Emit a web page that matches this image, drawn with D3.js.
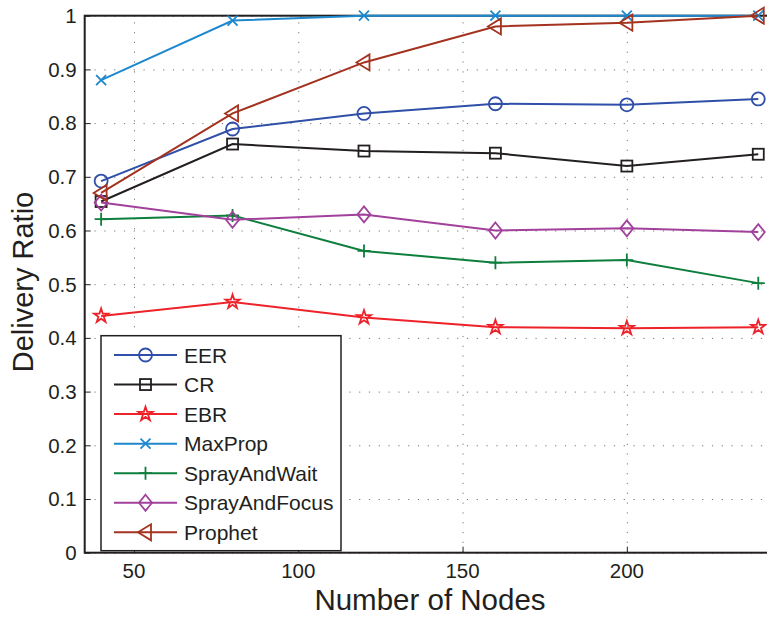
<!DOCTYPE html>
<html>
<head>
<meta charset="utf-8">
<script src="https://cdn.jsdelivr.net/npm/d3@7"></script>
<style>
  body { margin: 0; background: #fff; }
  text { font-family: "Liberation Sans", Arial, sans-serif; fill: #231f20; }
  .grid line { stroke: #777; stroke-width: 1; stroke-dasharray: 1.2, 8.6; }
  .grid path { display: none; }
</style>
</head>
<body>
<div id="chart"></div>
<script>
// data
const nodes = [40, 80, 120, 160, 200, 240];
const EER = [0.692, 0.789, 0.818, 0.836, 0.834, 0.845];
const CR = [0.654, 0.761, 0.748, 0.744, 0.720, 0.742];
const EBR = [0.441, 0.467, 0.438, 0.420, 0.418, 0.420];
const MaxProp = [0.880, 0.991, 1.0, 1.0, 1.0, 1.0];
const SprayAndWait = [0.621, 0.628, 0.562, 0.540, 0.545, 0.502];
const SprayAndFocus = [0.652, 0.620, 0.630, 0.600, 0.604, 0.597];
const Prophet = [0.670, 0.818, 0.913, 0.980, 0.987, 1.0];
const xTicks = [50, 100, 150, 200];
const yTicks = [0, 0.1, 0.2, 0.3, 0.4, 0.5, 0.6, 0.7, 0.8, 0.9, 1];

const series = [
  {name: "EER", values: EER, color: "#2f4fa8", marker: "circle"},
  {name: "CR", values: CR, color: "#231f20", marker: "square"},
  {name: "EBR", values: EBR, color: "#ee2229", marker: "star"},
  {name: "MaxProp", values: MaxProp, color: "#1e88cf", marker: "cross"},
  {name: "SprayAndWait", values: SprayAndWait, color: "#0d7e3c", marker: "plus"},
  {name: "SprayAndFocus", values: SprayAndFocus, color: "#a1419c", marker: "diamond"},
  {name: "Prophet", values: Prophet, color: "#a3321f", marker: "triangleLeft"}
];

const W = 767, H = 617;
const margin = {top: 15.7, left: 84.7};
const plotW = 690, plotH = 537;

const svg = d3.select("#chart").append("svg")
  .attr("width", W).attr("height", H);

const g = svg.append("g")
  .attr("transform", "translate(" + margin.left + "," + margin.top + ")");

const x = d3.scaleLinear().domain([35, 245]).range([0, plotW]);
const y = d3.scaleLinear().domain([0, 1]).range([plotH, 0]);

// gridlines
g.append("g")
  .attr("class", "grid")
  .attr("transform", "translate(0," + plotH + ")")
  .call(d3.axisBottom(x).tickValues(xTicks).tickSize(-plotH).tickFormat(""));
g.append("g")
  .attr("class", "grid")
  .call(d3.axisLeft(y).tickValues(yTicks).tickSize(-plotW).tickFormat(""));

// inward ticks
g.append("g")
  .attr("transform", "translate(0," + plotH + ")")
  .call(d3.axisBottom(x).tickValues(xTicks).tickSize(-6).tickFormat(""))
  .call(s => s.select(".domain").remove())
  .selectAll("line").attr("stroke", "#231f20");
g.append("g")
  .call(d3.axisLeft(y).tickValues(yTicks).tickSize(-6).tickFormat(""))
  .call(s => s.select(".domain").remove())
  .selectAll("line").attr("stroke", "#231f20");

// frame
g.append("rect")
  .attr("x", 0).attr("y", 0)
  .attr("width", plotW).attr("height", plotH)
  .attr("fill", "none")
  .attr("stroke", "#231f20")
  .attr("stroke-width", 2);

// tick labels
g.selectAll(".xlab").data(xTicks).enter().append("text")
  .attr("x", d => x(d))
  .attr("y", plotH + 25.8)
  .attr("text-anchor", "middle")
  .style("font-size", "20.5px")
  .text(d => d);
g.selectAll(".ylab").data(yTicks).enter().append("text")
  .attr("x", -8)
  .attr("y", d => y(d))
  .attr("dy", "0.36em")
  .attr("text-anchor", "end")
  .style("font-size", "20.5px")
  .text(d => d3.format("~g")(d));

// axis titles
svg.append("text")
  .attr("x", 430).attr("y", 610)
  .attr("text-anchor", "middle")
  .style("font-size", "29.5px")
  .text("Number of Nodes");
svg.append("text")
  .attr("transform", "translate(33,282) rotate(-90)")
  .attr("text-anchor", "middle")
  .style("font-size", "29px")
  .text("Delivery Ratio");

function drawMarker(sel, type, color) {
  const sw = 1.8;
  if (type === "circle") {
    sel.append("circle").attr("r", 6.5)
      .attr("fill", "none").attr("stroke", color).attr("stroke-width", sw);
  } else if (type === "square") {
    sel.append("rect").attr("x", -5.5).attr("y", -5.5)
      .attr("width", 11).attr("height", 11)
      .attr("fill", "none").attr("stroke", color).attr("stroke-width", sw);
  } else if (type === "star") {
    sel.append("path")
      .attr("d", d3.symbol().type(d3.symbolStar).size(62)())
      .attr("fill", "none").attr("stroke", color).attr("stroke-width", sw);
  } else if (type === "cross") {
    sel.append("path").attr("d", "M-5,-5L5,5M-5,5L5,-5")
      .attr("stroke", color).attr("stroke-width", sw);
  } else if (type === "plus") {
    sel.append("path").attr("d", "M-6.5,0L6.5,0M0,-6.5L0,6.5")
      .attr("stroke", color).attr("stroke-width", sw);
  } else if (type === "diamond") {
    sel.append("path").attr("d", "M0,-8L6.5,0L0,8L-6.5,0Z")
      .attr("fill", "none").attr("stroke", color).attr("stroke-width", sw);
  } else if (type === "triangleLeft") {
    sel.append("path").attr("d", "M-7.5,0L5.5,-8L5.5,8Z")
      .attr("fill", "none").attr("stroke", color).attr("stroke-width", sw);
  }
}

const line = d3.line()
  .x((d, i) => x(nodes[i]))
  .y(d => y(d));

series.forEach(s => {
  g.append("path")
    .datum(s.values)
    .attr("fill", "none")
    .attr("stroke", s.color)
    .attr("stroke-width", 2)
    .attr("d", line);
  s.values.forEach((v, i) => {
    const m = g.append("g")
      .attr("transform", "translate(" + x(nodes[i]) + "," + y(v) + ")");
    drawMarker(m, s.marker, s.color);
  });
});

// legend
const legend = svg.append("g").attr("transform", "translate(101,335.7)");
legend.append("rect")
  .attr("width", 240).attr("height", 215)
  .attr("fill", "#fff")
  .attr("stroke", "#231f20")
  .attr("stroke-width", 1.5);
series.forEach((s, i) => {
  const row = legend.append("g").attr("transform", "translate(0," + (19.3 + i * 29.55) + ")");
  row.append("line")
    .attr("x1", 13).attr("x2", 76)
    .attr("stroke", s.color).attr("stroke-width", 2);
  drawMarker(row.append("g").attr("transform", "translate(44.5,0)"), s.marker, s.color);
  row.append("text")
    .attr("x", 83).attr("dy", "0.36em")
    .style("font-size", "21px")
    .text(s.name);
});
</script>
</body>
</html>
